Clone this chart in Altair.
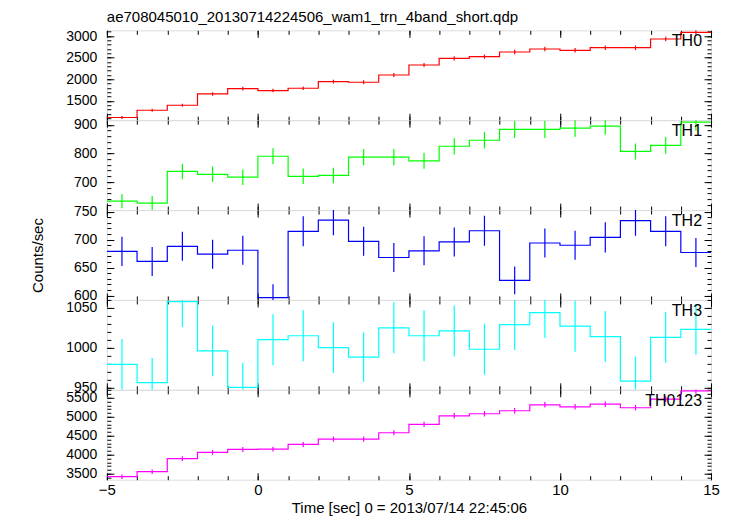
import altair as alt
import pandas as pd

FONT = "Liberation Sans"

# bin centres (1 s bins)
time_centers = [-4.5, -3.5, -2.5, -1.5, -0.5, 0.5, 1.5, 2.5, 3.5, 4.5,
                5.5, 6.5, 7.5, 8.5, 9.5, 10.5, 11.5, 12.5, 13.5, 14.5]
half_width = 0.5

band_names = ["TH0", "TH1", "TH2", "TH3", "TH0123"]
band_colors = ["#ff0000", "#00ff00", "#0000ff", "#00ffff", "#ff00ff"]

th0_rate = [1117, 1285, 1400, 1662, 1786, 1740, 1793, 1948, 1932, 2100,
            2331, 2485, 2525, 2631, 2700, 2670, 2732, 2732, 2931, 3085]
th0_err = [33, 36, 37, 41, 42, 42, 42, 44, 44, 46,
           48, 50, 50, 51, 52, 52, 52, 52, 54, 56]

th1_rate = [633, 626, 737, 727, 717, 790, 720, 723, 787, 787,
            774, 825, 846, 884, 884, 888, 895, 807, 828, 909]
th1_err = [25, 25, 27, 27, 27, 28, 27, 27, 28, 28,
           28, 29, 29, 30, 30, 30, 30, 28, 29, 30]

th2_rate = [679, 661, 688, 674, 681, 596, 715, 735, 697, 668,
            680, 696, 716, 627, 694, 690, 704, 734, 715, 677]
th2_err = [26, 26, 26, 26, 26, 24, 27, 27, 26, 26,
           26, 26, 27, 25, 26, 26, 27, 27, 27, 26]

th3_rate = [979, 956, 1058, 996, 950, 1010, 1015, 1000, 988, 1025,
            1015, 1021, 998, 1029, 1044, 1027, 1014, 958, 1013, 1023]
th3_err = [32, 31, 32, 32, 31, 32, 32, 32, 31, 32,
           32, 32, 32, 32, 32, 32, 32, 31, 32, 32]

th0123_rate = [3421, 3553, 3895, 4061, 4139, 4147, 4271, 4411, 4411, 4579,
               4797, 5026, 5079, 5158, 5316, 5263, 5332, 5237, 5463, 5684]
th0123_err = [58, 60, 62, 64, 64, 64, 65, 66, 66, 68,
              69, 71, 71, 72, 73, 73, 73, 72, 74, 75]

y_domains = [[1055, 3132], [602, 916], [592, 753], [947, 1060], [3342, 5710]]
y_major_ticks = [[1000, 1500, 2000, 2500, 3000],
                 [600, 700, 800, 900],
                 [600, 650, 700, 750],
                 [950, 1000, 1050],
                 [3500, 4000, 4500, 5000, 5500]]
y_minor_step = [100, 20, 10, 10, 100]

x_domain = [-5, 15]
x_major_ticks = [-5, 0, 5, 10, 15]
x_minor_ticks = list(range(-5, 16))

title_text = "ae708045010_20130714224506_wam1_trn_4band_short.qdp"
x_title = "Time [sec] 0 = 2013/07/14 22:45:06"
y_title = "Counts/sec"

W, H = 605, 90
MAJ, MIN = 7, 4


def minor_values(domain, step):
    start = int(domain[0] // step) * step
    vals = []
    v = start
    while v <= domain[1] + step:
        vals.append(v)
        v += step
    return vals


def panel(i, rates, errs):
    color = band_colors[i]
    is_last = i == len(band_names) - 1
    edges = [c - half_width for c in time_centers] + [time_centers[-1] + half_width]
    step_df = pd.DataFrame({"edge": edges, "rate": rates + [rates[-1]]})
    bins_df = pd.DataFrame({
        "t": time_centers,
        "lo": [r - e for r, e in zip(rates, errs)],
        "hi": [r + e for r, e in zip(rates, errs)],
    })
    xs = alt.Scale(domain=x_domain, nice=False, zero=False)
    ys = alt.Scale(domain=y_domains[i], nice=False, zero=False)
    ymin = minor_values(y_domains[i], y_minor_step[i])

    common = dict(domain=False, grid=False, tickColor="black", tickWidth=1)

    x_bot_major_kw = dict(orient="bottom", values=x_major_ticks, tickSize=MAJ, offset=-MAJ,
                          labels=is_last, labelFlush=False, labelPadding=3,
                          labelFontSize=15, format="d", **common)
    if is_last:
        x_bot_major = alt.Axis(title=x_title, titlePadding=3, titleFontSize=15,
                               titleFontWeight="normal", **x_bot_major_kw)
    else:
        x_bot_major = alt.Axis(title=None, **x_bot_major_kw)

    y_left_kw = dict(orient="left", values=y_major_ticks[i], tickSize=MAJ, offset=-MAJ,
                     labels=True, labelPadding=10, labelFontSize=14, format="d",
                     labelOverlap=False, **common)
    if i == 2:
        y_left_major = alt.Axis(title=y_title, titleAngle=270, titleX=-76, titleY=H / 2,
                                titleAlign="center", titleBaseline="middle",
                                titleFontSize=15, titleFontWeight="normal", **y_left_kw)
    else:
        y_left_major = alt.Axis(title=None, **y_left_kw)

    x_bot_minor = alt.Axis(orient="bottom", values=x_minor_ticks, tickSize=MIN, offset=-MIN,
                           labels=False, title=None, **common)
    y_left_minor = alt.Axis(orient="left", values=ymin, tickSize=MIN, offset=-MIN,
                            labels=False, title=None, **common)
    x_top_major = alt.Axis(orient="top", values=x_major_ticks, tickSize=MAJ, offset=-MAJ,
                           labels=False, title=None, **common)
    y_right_major = alt.Axis(orient="right", values=y_major_ticks[i], tickSize=MAJ, offset=-MAJ,
                             labels=False, title=None, **common)
    x_top_minor = alt.Axis(orient="top", values=x_minor_ticks, tickSize=MIN, offset=-MIN,
                           labels=False, title=None, **common)
    y_right_minor = alt.Axis(orient="right", values=ymin, tickSize=MIN, offset=-MIN,
                             labels=False, title=None, **common)

    line = alt.Chart(step_df).mark_line(interpolate="step-after", color=color,
                                        strokeWidth=1.2, clip=True).encode(
        x=alt.X("edge:Q", scale=xs, axis=x_bot_major),
        y=alt.Y("rate:Q", scale=ys, axis=y_left_major),
    )
    err = alt.Chart(bins_df).mark_rule(color=color, strokeWidth=1.2, clip=True).encode(
        x=alt.X("t:Q", scale=xs, axis=x_bot_minor),
        y=alt.Y("lo:Q", scale=ys, axis=y_left_minor),
        y2="hi:Q",
    )
    ghost1 = alt.Chart(step_df).mark_line(opacity=0, clip=True).encode(
        x=alt.X("edge:Q", scale=xs, axis=x_top_major),
        y=alt.Y("rate:Q", scale=ys, axis=y_right_major),
    )
    ghost2 = alt.Chart(step_df).mark_line(opacity=0, clip=True).encode(
        x=alt.X("edge:Q", scale=xs, axis=x_top_minor),
        y=alt.Y("rate:Q", scale=ys, axis=y_right_minor),
    )
    label = alt.Chart(pd.DataFrame({"name": [band_names[i]]})).mark_text(
        align="right", baseline="alphabetic", fontSize=16, font=FONT, color="black"
    ).encode(x=alt.value(W - 9), y=alt.value(16), text="name:N")

    props = dict(width=W, height=H)
    if i == 0:
        props["title"] = alt.TitleParams(title_text, anchor="start", frame="group",
                                         fontSize=15, fontWeight="normal", font=FONT,
                                         color="black", offset=4)
    return alt.layer(line, err, ghost1, ghost2, label).resolve_axis(
        x="independent", y="independent").properties(**props)


rates_all = [th0_rate, th1_rate, th2_rate, th3_rate, th0123_rate]
errs_all = [th0_err, th1_err, th2_err, th3_err, th0123_err]
panels = [panel(i, rates_all[i], errs_all[i]) for i in range(len(band_names))]

chart = alt.vconcat(*panels, spacing=0, bounds="flush").properties(
    padding={"left": 22, "top": 1, "right": 5, "bottom": 0}
).configure_axis(
    labelFont=FONT, titleFont=FONT, labelColor="black", titleColor="black",
    titleFontWeight="normal"
).configure_view(stroke="black", strokeWidth=1).configure(background="white")

chart.save("out.html", embed_options={"renderer": "svg", "actions": False})
